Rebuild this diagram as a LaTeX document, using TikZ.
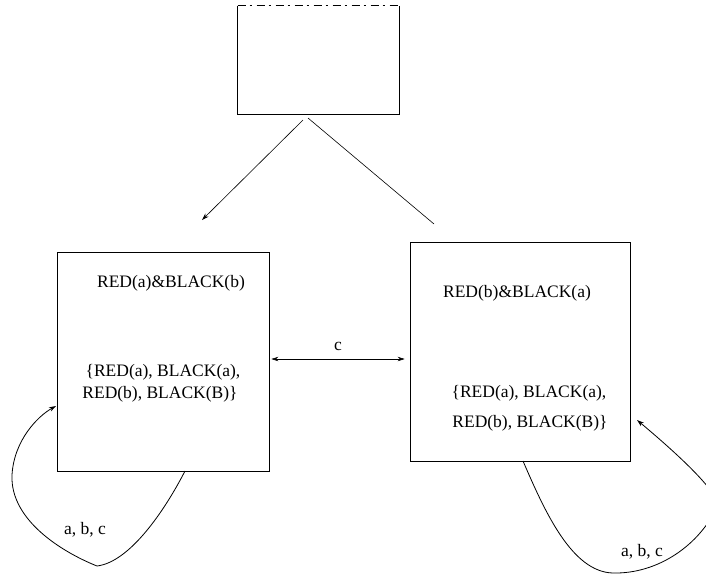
\documentclass[tikz,border=0pt]{standalone}
\usepackage{fontspec}
\setmainfont{Liberation Serif}
\usetikzlibrary{arrows.meta}
\begin{document}
\begin{tikzpicture}[x=1pt,y=-1pt,
  line width=0.8pt,
  statebox/.style={draw, rectangle, inner sep=0pt},
  txt/.style={font=\fontsize{17.5}{20}\selectfont, inner sep=0pt},
  lbl/.style={font=\fontsize{17.5}{20}\selectfont, inner sep=0pt},
  tip/.style={-{Stealth[length=7pt,width=4.5pt]}},
  dtip/.style={{Stealth[length=7pt,width=4.5pt]}-{Stealth[length=7pt,width=4.5pt]}}]
\useasboundingbox (0,0) rectangle (706,574);
% top box (top edge broken)
\node[rectangle, minimum width=161pt, minimum height=108pt, inner sep=0pt] (T) at (318.5,60) {};
\draw (T.north west) -- (T.south west) -- (T.south east) -- (T.north east);
\draw[line width=0.5pt, dash pattern=on 8pt off 4pt on 2pt off 5pt] (T.north west) -- (T.north east);
% state boxes
\node[statebox, minimum width=212pt, minimum height=219pt] (L) at (163,361.5) {};
\node[statebox, minimum width=220pt, minimum height=219pt] (R) at (520,351.5) {};
% texts
\node[txt] (l1) at (171,283) {RED(a)\&BLACK(b)};
\node[txt] (l2) at (163,372) {\{RED(a), BLACK(a),};
\node[txt] (l3) at (160,394) {RED(b), BLACK(B)\}};
\node[txt] (r1) at (517,293) {RED(b)\&BLACK(a)};
\node[txt] (r2) at (529,393) {\{RED(a), BLACK(a),};
\node[txt] (r3) at (530,423) {RED(b), BLACK(B)\}};
% lines from top box
\coordinate (ta) at (303,120);
\coordinate (tb) at (308,118);
\coordinate (la) at (202,220);
\coordinate (rb) at (434,224);
\draw[tip, line width=0.6pt] (ta) -- (la);
\draw[line width=0.6pt] (tb) -- (rb);
% c arrow
\draw[dtip, line width=0.6pt] ([xshift=2pt]L.east |- 0,359) -- ([xshift=-5pt]R.west |- 0,359);
\node[lbl] (c) at (338,346) {c};
% left loop
\coordinate (ls) at (185,471);
\coordinate (lt) at (56,406);
\draw[tip] (ls) .. controls (165,510) and (130,562) .. (97,566)
  .. controls (62,552) and (10,520) .. (12,475)
  .. controls (14,440) and (38,416) .. (lt);
\node[lbl] (labl) at (85,530) {a, b, c};
% right loop
\coordinate (rs) at (523,461);
\coordinate (rt) at (637,420);
\begin{scope}
\clip (0,0) rectangle (706,574);
\draw[tip] (rs) .. controls (545,512) and (572,572) .. (613,573)
  .. controls (658,574) and (700,545) .. (718,505)
  .. controls (716,488) and (668,446) .. (rt);
\end{scope}
\node[lbl] (labr) at (642,552) {a, b, c};
\end{tikzpicture}
\end{document}
